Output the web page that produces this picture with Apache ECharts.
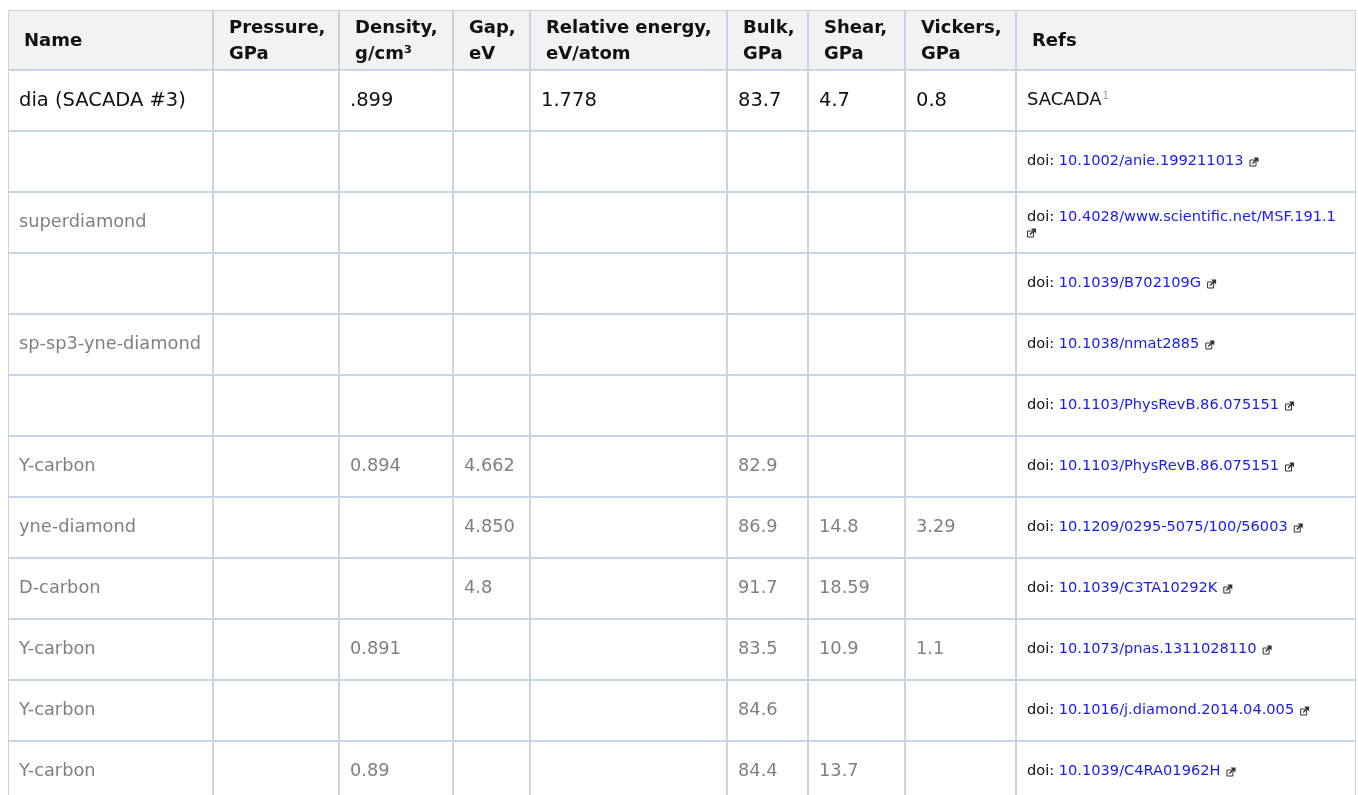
<!DOCTYPE html>
<html><head><meta charset="utf-8">
<script src="https://cdn.jsdelivr.net/npm/echarts@6/dist/echarts.min.js"></script>
<style>html,body{margin:0;padding:0;background:#fff}#c{width:1358px;height:795px}</style>
</head><body><div id="c"></div>
<script>
// ---- data ----
const headers = ['Name', 'Pressure,\nGPa', 'Density,\ng/cm³', 'Gap,\neV', 'Relative energy,\neV/atom', 'Bulk,\nGPa', 'Shear,\nGPa', 'Vickers,\nGPa', 'Refs'];
const names = ['dia (SACADA #3)', '', 'superdiamond', '', 'sp-sp3-yne-diamond', '', 'Y-carbon', 'yne-diamond', 'D-carbon', 'Y-carbon', 'Y-carbon', 'Y-carbon'];
const pressure = ['', '', '', '', '', '', '', '', '', '', '', ''];
const density = ['.899', '', '', '', '', '', '0.894', '', '', '0.891', '', '0.89'];
const gap = ['', '', '', '', '', '', '4.662', '4.850', '4.8', '', '', ''];
const relEnergy = ['1.778', '', '', '', '', '', '', '', '', '', '', ''];
const bulk = ['83.7', '', '', '', '', '', '82.9', '86.9', '91.7', '83.5', '84.6', '84.4'];
const shear = ['4.7', '', '', '', '', '', '', '14.8', '18.59', '10.9', '', '13.7'];
const vickers = ['0.8', '', '', '', '', '', '', '3.29', '', '1.1', '', ''];
const refDois = ['', '10.1002/anie.199211013', '10.4028/www.scientific.net/MSF.191.1', '10.1039/B702109G', '10.1038/nmat2885', '10.1103/PhysRevB.86.075151', '10.1103/PhysRevB.86.075151', '10.1209/0295-5075/100/56003', '10.1039/C3TA10292K', '10.1073/pnas.1311028110', '10.1016/j.diamond.2014.04.005', '10.1039/C4RA01962H'];
const refSacada = 'SACADA';
const refNote = '1';

// ---- layout ----
const colWidths = [205, 126, 114, 77, 197, 81, 97, 111, 340];
const headerHeight = 60, rowHeight = 61;
const FONT = '"DejaVu Sans", sans-serif';
const BORDER = '#c8d5e2';

const bodyCols = [names, pressure, density, gap, relEnergy, bulk, shear, vickers];
const colEdges = [0];
colWidths.forEach(w => colEdges.push(colEdges[colEdges.length - 1] + w));
const totalW = colEdges[colEdges.length - 1];

const cells = [];
headers.forEach((h, c) => cells.push({ value: [c, -1] }));
names.forEach((n, r) => { for (let c = 0; c < headers.length; c++) cells.push({ value: [c, r] }); });

const ctx = document.createElement('canvas').getContext('2d');
function textW(s, font) { ctx.font = font; return ctx.measureText(s).width; }

function rowTop(r) { return r < 0 ? 0 : headerHeight + r * rowHeight; }
function rowBot(r) { return r < 0 ? headerHeight : headerHeight + (r + 1) * rowHeight; }

function linkIcon(x, y) {
  // small external-link box; (x,y) = bottom-left
  return [
    { type: 'rect', shape: { x: x + 0.5, y: y - 6.5, width: 6, height: 6 }, style: { fill: 'none', stroke: '#333', lineWidth: 1 } },
    { type: 'polygon', shape: { points: [[x + 4, y - 9], [x + 9, y - 9], [x + 9, y - 4]] }, style: { fill: '#333' } },
    { type: 'line', shape: { x1: x + 3, y1: y - 3, x2: x + 7.5, y2: y - 7.5 }, style: { stroke: '#333', lineWidth: 1.4 } }
  ];
}

function renderItem(params, api) {
  const c = api.value(0), r = api.value(1);
  const p0 = api.coord([colEdges[c], rowTop(r)]);
  const p1 = api.coord([colEdges[c + 1], rowBot(r)]);
  const children = [{
    type: 'rect',
    shape: { x: p0[0], y: p0[1], width: p1[0] - p0[0], height: p1[1] - p0[1] },
    style: { fill: r < 0 ? '#f2f2f2' : '#ffffff', stroke: BORDER, lineWidth: 2 }
  }];
  const cy = (p0[1] + p1[1]) / 2;
  if (r < 0) {
    children.push({ type: 'text', style: { text: headers[c], x: p0[0] + 16, y: cy + 1, verticalAlign: 'middle', align: 'left', font: 'bold 18px ' + FONT, lineHeight: 26, fill: '#111' } });
  } else if (c < bodyCols.length) {
    const s = bodyCols[c][r];
    if (s) {
      const first = r === 0;
      children.push({ type: 'text', style: { text: s, x: p0[0] + 11, y: cy, verticalAlign: 'middle', align: 'left', font: (first ? '19.5px ' : '17.8px ') + FONT, fill: first ? '#111' : '#808080' } });
    }
  } else {
    const x = p0[0] + 11;
    if (r === 0) {
      const f = '18px ' + FONT;
      children.push({ type: 'text', style: { text: refSacada, x: x, y: cy, verticalAlign: 'middle', font: f, fill: '#111' } });
      children.push({ type: 'text', style: { text: refNote, x: x + textW(refSacada, f) + 1, y: cy - 4, verticalAlign: 'middle', font: '10px ' + FONT, fill: '#999' } });
    } else {
      const f = '14.6px ' + FONT;
      const pre = 'doi: ';
      const wPre = textW(pre, f), wDoi = textW(refDois[r], f);
      const maxX = p1[0] - 11;
      const wraps = x + wPre + wDoi + 14 > maxX;
      const ty = wraps ? cy - 5 : cy;
      children.push({ type: 'text', style: { text: pre, x: x, y: ty, verticalAlign: 'middle', font: f, fill: '#111' } });
      children.push({ type: 'text', style: { text: refDois[r], x: x + wPre, y: ty, verticalAlign: 'middle', font: f, fill: '#1a1aee' } });
      if (wraps) children.push(...linkIcon(x, ty + 20));
      else children.push(...linkIcon(x + wPre + wDoi + 6, ty + 5));
    }
  }
  return { type: 'group', children: children };
}

const chart = echarts.init(document.getElementById('c'), null, { renderer: 'canvas' });
chart.setOption({
  animation: false,
  grid: { left: 8, top: 10, width: totalW, height: 785 },
  xAxis: { type: 'value', min: 0, max: totalW, show: false },
  yAxis: { type: 'value', min: 0, max: 785, inverse: true, show: false },
  series: [{
    type: 'custom',
    renderItem: renderItem,
    data: cells,
    clip: true,
    silent: true
  }]
});
</script>
</body></html>
